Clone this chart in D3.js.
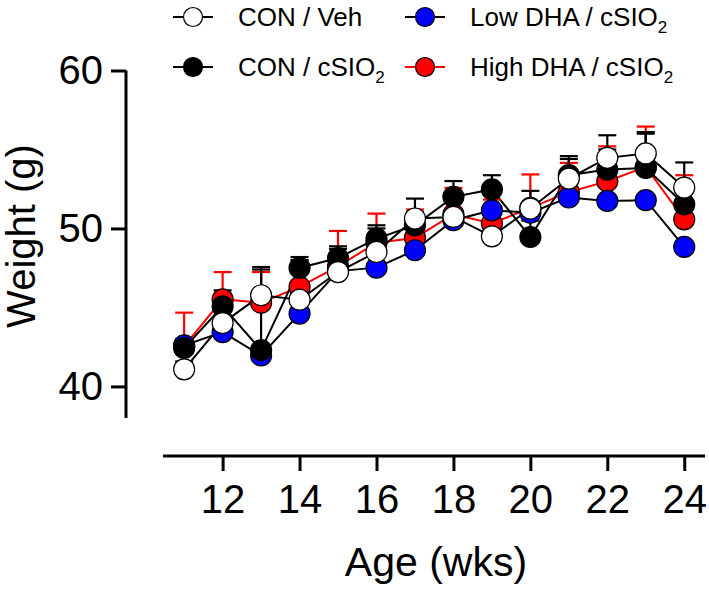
<!DOCTYPE html>
<html>
<head>
<meta charset="utf-8">
<script src="https://cdn.jsdelivr.net/npm/d3@7"></script>
<style>
html,body{margin:0;padding:0;background:#fff;}
svg{display:block;font-family:Arial,"Liberation Sans",Helvetica,sans-serif;}
</style>
</head>
<body>
<svg id="chart" width="709" height="590"></svg>
<script>
// ---- data ----
const weeks = [11,12,13,14,15,16,17,18,19,20,21,22,23,24];
const conVeh  = [41.08,44.01,45.77,45.49,47.24,48.51,50.63,50.73,49.50,51.26,53.16,54.47,54.75,52.59];
const conSio  = [42.43,45.07,42.30,47.50,48.13,49.36,50.20,52.00,52.47,49.46,53.37,53.73,53.83,51.53];
const lowDha  = [42.60,43.44,41.96,44.61,47.30,47.52,48.62,50.52,51.15,51.00,51.96,51.74,51.79,48.83];
const highDha = [42.55,45.51,45.30,46.30,47.60,49.10,49.40,50.90,50.31,51.30,52.30,52.99,53.90,50.58];
const conVehErr  = [0.50,0.50,1.63,2.51,1.46,1.49,0.40,0.50,1.65,1.12,1.24,1.43,1.25,0.30];
const conSioErr  = [0.57,1.01,5.26,0.69,0.74,0.84,1.69,1.00,0.90,1.04,1.21,1.27,2.27,2.65];
const highDhaErr = [2.12,1.73,1.94,1.68,2.24,1.84,1.80,1.67,1.52,2.12,1.85,2.21,2.55,2.79];
const xTicks = [12,14,16,18,20,22,24];
const yTicks = [40,50,60];

const series = [
  {name:"High DHA / cSIO", sub:"2", values:highDha, err:highDhaErr, fill:"#ff0000", line:"#ff0000", errColor:"#ff0000"},
  {name:"Low DHA / cSIO",  sub:"2", values:lowDha,  err:null,       fill:"#0000ff", line:"#000000", errColor:"#000000"},
  {name:"CON / cSIO",      sub:"2", values:conSio,  err:conSioErr,  fill:"#000000", line:"#000000", errColor:"#000000"},
  {name:"CON / Veh",       sub:"",  values:conVeh,  err:conVehErr,  fill:"#ffffff", line:"#000000", errColor:"#000000"}
];

const svg = d3.select("#chart");
const x = d3.scaleLinear().domain([10.45,24.54]).range([163,705]);
const y = d3.scaleLinear().domain([38,60]).range([418,70.5]);
const xAxisY = 456, yAxisX = 126;
const R = 10.5;

// axes
const gx = svg.append("g").attr("transform",`translate(0,${xAxisY})`)
  .call(d3.axisBottom(x).tickValues(xTicks).tickSize(15).tickPadding(14).tickFormat(d3.format("d")));
const gy = svg.append("g").attr("transform",`translate(${yAxisX},0)`)
  .call(d3.axisLeft(y).tickValues(yTicks).tickSize(15).tickPadding(8).tickFormat(d3.format("d")));
[gx,gy].forEach(g=>{
  g.select(".domain").attr("stroke","#000").attr("stroke-width",3);
  g.selectAll(".tick line").attr("stroke","#000").attr("stroke-width",3);
  g.selectAll(".tick text").attr("fill","#000").style("font-size","40px")
   .style("font-family","Arial, 'Liberation Sans', sans-serif");
});
gx.select(".domain").attr("d",`M${x.range()[0]},0H${x.range()[1]}`);
gy.select(".domain").attr("d",`M0,${y.range()[0]}V${y.range()[1]}`);

// axis titles
svg.append("text").attr("x",436).attr("y",576).attr("text-anchor","middle")
  .style("font-size","41px").text("Age (wks)");
svg.append("text").attr("transform","translate(35,236) rotate(-90)").attr("text-anchor","middle")
  .style("font-size","40px").text("Weight (g)");

// lines
const lineGen = d3.line().x((d,i)=>x(weeks[i])).y(d=>y(d));
series.forEach(s=>{
  svg.append("path").datum(s.values).attr("d",lineGen)
    .attr("fill","none").attr("stroke",s.line).attr("stroke-width",2);
});
// error bars (upper)
series.forEach(s=>{
  if(!s.err) return;
  const g = svg.append("g").attr("stroke",s.errColor).attr("stroke-width",2.2);
  s.values.forEach((v,i)=>{
    const cx = x(weeks[i]), top = y(v + s.err[i]);
    g.append("line").attr("x1",cx).attr("x2",cx).attr("y1",y(v)).attr("y2",top);
    g.append("line").attr("x1",cx-9).attr("x2",cx+9).attr("y1",top).attr("y2",top);
  });
});
// points
series.forEach(s=>{
  svg.append("g").selectAll("circle").data(s.values).join("circle")
    .attr("cx",(d,i)=>x(weeks[i])).attr("cy",d=>y(d)).attr("r",R)
    .attr("fill",s.fill).attr("stroke","#000").attr("stroke-width",1.2);
});

// legend
const legendItems = [
  {s:series[3], lx:193, ly:17},
  {s:series[2], lx:193, ly:67},
  {s:series[1], lx:425, ly:17},
  {s:series[0], lx:425, ly:67}
];
legendItems.forEach(it=>{
  const g = svg.append("g");
  g.append("line").attr("x1",it.lx-20).attr("x2",it.lx+20).attr("y1",it.ly).attr("y2",it.ly)
    .attr("stroke",it.s.line).attr("stroke-width",2);
  g.append("circle").attr("cx",it.lx).attr("cy",it.ly).attr("r",9.5)
    .attr("fill",it.s.fill).attr("stroke","#000").attr("stroke-width",1.2);
  const t = g.append("text").attr("x",it.lx+45).attr("y",it.ly+9).style("font-size","26px").text(it.s.name);
  if(it.s.sub) t.append("tspan").attr("dy",7).style("font-size","17px").text(it.s.sub);
});
</script>
</body>
</html>
